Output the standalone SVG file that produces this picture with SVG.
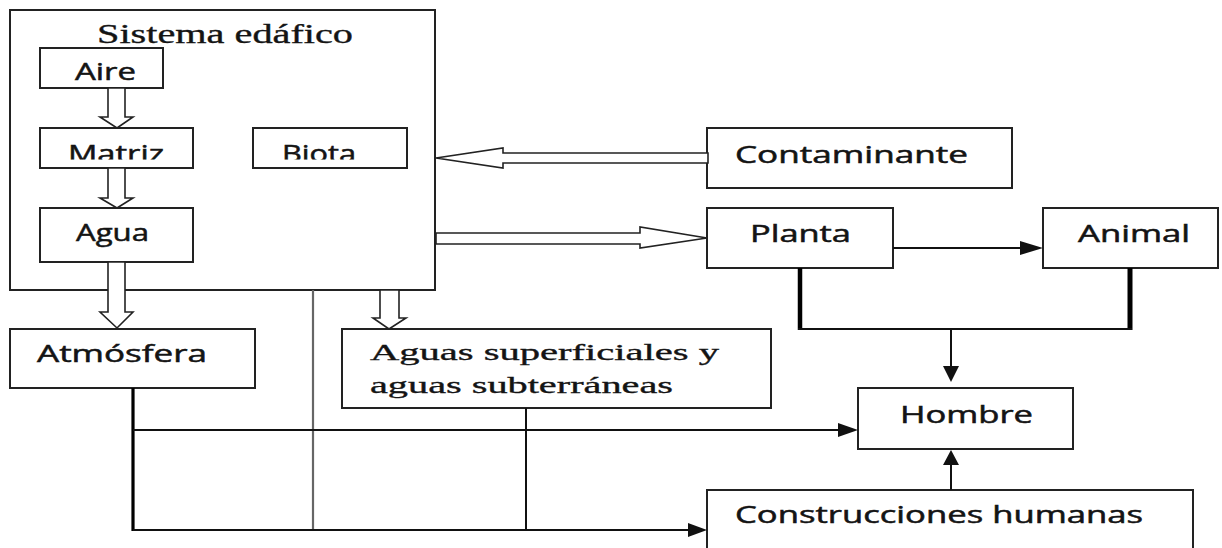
<svg xmlns="http://www.w3.org/2000/svg" width="1222" height="548" viewBox="0 0 1222 548">
<style>
.box{fill:#fff;stroke:#222;stroke-width:2}
.sans{font-family:"Open Sans","Liberation Sans",Arial,sans-serif;font-size:23px;fill:#141414;stroke:#141414;stroke-width:0.5}
.serif{font-family:"Liberation Serif","Times New Roman",serif;fill:#141414;stroke:#141414;stroke-width:0.35}
.hollow{fill:#fff;stroke:#222;stroke-width:1.6;stroke-linejoin:miter}
.line{fill:none;stroke:#111;stroke-width:2}
.gray{fill:none;stroke:#666;stroke-width:2.2}
.head{fill:#111}
</style>
<defs>
<clipPath id="clipRow"><rect x="0" y="120" width="440" height="39.5"/></clipPath>
</defs>
<rect width="1222" height="548" fill="#fff"/>

<g id="sistema-edafico">
<rect class="box" x="10" y="10" width="425" height="280"/>
<text class="serif" x="97" y="43" font-size="27" textLength="256" lengthAdjust="spacingAndGlyphs">Sistema edáfico</text>
</g>
<g id="aire">
<rect class="box" x="40" y="48" width="123" height="40"/>
<text class="sans" x="75" y="80" textLength="61" lengthAdjust="spacingAndGlyphs">Aire</text>
</g>
<g id="matriz">
<rect class="box" x="40" y="128" width="153" height="40"/>
<text class="sans" x="68" y="162" textLength="96" lengthAdjust="spacingAndGlyphs" clip-path="url(#clipRow)">Matriz</text>
</g>
<g id="biota">
<rect class="box" x="253" y="128" width="154" height="40"/>
<text class="sans" x="282" y="162" textLength="74" lengthAdjust="spacingAndGlyphs" clip-path="url(#clipRow)">Biota</text>
</g>
<g id="agua">
<rect class="box" x="40" y="208" width="153" height="54"/>
<text class="sans" x="76" y="241" textLength="73" lengthAdjust="spacingAndGlyphs">Agua</text>
</g>
<g id="contaminante">
<rect class="box" x="707" y="128" width="305" height="60"/>
<text class="sans" x="735" y="163" textLength="233" lengthAdjust="spacingAndGlyphs">Contaminante</text>
</g>
<g id="planta">
<rect class="box" x="707" y="208" width="186" height="60"/>
<text class="sans" x="750" y="242" textLength="101" lengthAdjust="spacingAndGlyphs">Planta</text>
</g>
<g id="animal">
<rect class="box" x="1043" y="208" width="175" height="60"/>
<text class="sans" x="1078" y="242" textLength="112" lengthAdjust="spacingAndGlyphs">Animal</text>
</g>
<g id="atmosfera">
<rect class="box" x="10" y="329" width="245" height="59"/>
<text class="sans" x="37" y="362" textLength="170" lengthAdjust="spacingAndGlyphs">Atmósfera</text>
</g>
<g id="aguas">
<rect class="box" x="342" y="329" width="429" height="79"/>
<text class="serif" x="370" y="360" font-size="24" textLength="349" lengthAdjust="spacingAndGlyphs">Aguas superficiales y</text>
<text class="serif" x="370" y="393" font-size="24" textLength="303" lengthAdjust="spacingAndGlyphs">aguas subterráneas</text>
</g>
<g id="hombre">
<rect class="box" x="858" y="388" width="215" height="61"/>
<text class="sans" x="900" y="423" textLength="133" lengthAdjust="spacingAndGlyphs">Hombre</text>
</g>
<g id="construcciones">
<rect class="box" x="707" y="490" width="486" height="70"/>
<text class="sans" x="735" y="523" textLength="408" lengthAdjust="spacingAndGlyphs">Construcciones humanas</text>
</g>

<g id="connectors">
<polygon class="hollow" points="108,88 125,88 125,117 133,117 117,128 100,117 108,117"/>
<polygon class="hollow" points="108,168 125,168 125,198 133,198 117,208 100,198 108,198"/>
<polygon class="hollow" points="108,262 125,262 125,312 133,312 117,328 100,312 108,312"/>
<polygon class="hollow" points="380,290 399,290 399,318 406,318 389,329 373,318 380,318"/>
<polygon class="hollow" points="708,153 503,153 503,148 436,158 503,168 503,163 708,163"/>
<polygon class="hollow" points="436,233 640,233 640,227 707,238 640,248 640,244 436,244"/>

<line x1="800" y1="268" x2="800" y2="330" stroke="#000" stroke-width="4.5"/>
<line x1="1130" y1="268" x2="1130" y2="330" stroke="#000" stroke-width="5"/>
<line class="line" x1="798" y1="329" x2="1132" y2="329"/>
<line class="line" x1="951" y1="329" x2="951" y2="368"/>
<polygon class="head" points="943,366 959,366 951,382"/>

<line class="line" x1="893" y1="248" x2="1024" y2="248"/>
<polygon class="head" points="1020,241 1043,248 1020,255"/>

<line class="line" x1="951" y1="490" x2="951" y2="462"/>
<polygon class="head" points="943,465 959,465 951,450"/>

<line x1="133" y1="388" x2="133" y2="531" stroke="#000" stroke-width="3.2"/>
<line class="gray" x1="313" y1="290" x2="313" y2="530"/>
<line class="line" x1="526" y1="408" x2="526" y2="530"/>
<line class="line" x1="133" y1="430" x2="842" y2="430"/>
<polygon class="head" points="838,423 858,430 838,437"/>
<line class="line" x1="133" y1="530" x2="692" y2="530"/>
<polygon class="head" points="688,523 707,530 688,537"/>
</g>
</svg>
